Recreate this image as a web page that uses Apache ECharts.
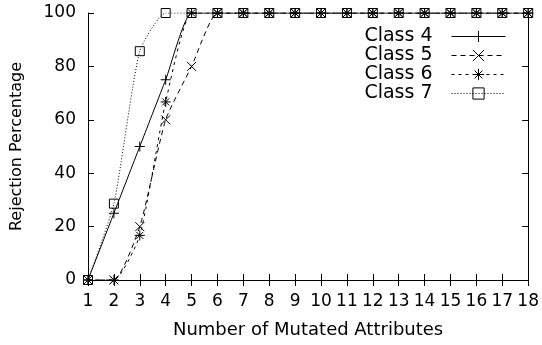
<!DOCTYPE html>
<html><head><meta charset="utf-8">
<script src="https://cdn.jsdelivr.net/npm/echarts@6/dist/echarts.min.js"></script>
<style>html,body{margin:0;padding:0;background:#fff}#c{width:542px;height:345px}</style>
</head><body><div id="c"></div>
<script>
const xValues = [1,2,3,4,5,6,7,8,9,10,11,12,13,14,15,16,17,18];
const class4 = [0,25,50,75,100,100,100,100,100,100,100,100,100,100,100,100,100,100];
const class5 = [0,0,20,60,80,100,100,100,100,100,100,100,100,100,100,100,100,100];
const class6 = [0,0,16.7,66.7,100,100,100,100,100,100,100,100,100,100,100,100,100,100];
const class7 = [0,28.6,85.7,100,100,100,100,100,100,100,100,100,100,100,100,100,100,100];
const seriesNames = ['Class 4','Class 5','Class 6','Class 7'];
const yTicks = [0,20,40,60,80,100];

const FONT = '"DejaVu Sans", "Liberation Sans", Arial, sans-serif';
const sym = {
  plus: 'path://M5 0L5 10M0 5L10 5',
  cross: 'path://M0 0L10 10M0 10L10 0',
  star: 'path://M5 0L5 10M0 5L10 5M1.5 1.5L8.5 8.5M1.5 8.5L8.5 1.5',
  square: 'path://M0 0L10 0L10 10L0 10Z'
};
function mk(name, data, symbol, dash, size) {
  return {
    name, type: 'line', smooth: 0.18,
    data: xValues.map((x,i)=>[x,data[i]]),
    symbol, symbolSize: size, showSymbol: true,
    lineStyle: {color:'#000', width:1, type: dash},
    itemStyle: {color:'rgba(0,0,0,0)', borderColor:'#000', borderWidth:1},
    emphasis: {disabled:true},
    z: 3
  };
}
const chart = echarts.init(document.getElementById('c'), null, {renderer:'canvas'});
const axisCommon = {
  axisLine:{show:true, lineStyle:{color:'#000', width:1}},
  axisTick:{show:true, inside:true, length:6, lineStyle:{color:'#000'}},
  splitLine:{show:false}
};
chart.setOption({
  animation:false,
  backgroundColor:'#fff',
  textStyle:{fontFamily:FONT},
  grid:{left:88, right:12, top:13, bottom:65, containLabel:false},
  legend:{
    data:seriesNames, orient:'vertical', align:'right',
    right:36, top:27, padding:0, itemWidth:54, itemHeight:14, itemGap:0,
    symbolSize:9,
    lineStyle:{width:1},
    itemStyle:{borderWidth:1},
    textStyle:{fontFamily:FONT, fontSize:19, color:'#000', padding:[0,14,0,0]},
    selectedMode:false
  },
  xAxis:[
    Object.assign({type:'value', min:1, max:18, interval:1, position:'bottom',
      name:'Number of Mutated Attributes', nameLocation:'middle', nameGap:41,
      nameTextStyle:{fontFamily:FONT, fontSize:18, color:'#000'},
      axisLabel:{fontFamily:FONT, fontSize:17, color:'#000', margin:13}}, axisCommon),
    Object.assign({type:'value', min:1, max:18, interval:1, position:'top',
      axisLabel:{show:false}}, axisCommon)
  ],
  yAxis:[
    Object.assign({type:'value', min:yTicks[0], max:yTicks[yTicks.length-1], interval:20, position:'left',
      name:'Rejection Percentage', nameLocation:'middle', nameGap:63,
      nameTextStyle:{fontFamily:FONT, fontSize:16, color:'#000'},
      axisLabel:{fontFamily:FONT, fontSize:17, color:'#000', margin:12}}, axisCommon),
    Object.assign({type:'value', min:yTicks[0], max:yTicks[yTicks.length-1], interval:20, position:'right',
      axisLabel:{show:false}}, axisCommon)
  ],
  series:[
    mk(seriesNames[0], class4, sym.plus, 'solid', 10),
    mk(seriesNames[1], class5, sym.cross, [5,4], 9),
    mk(seriesNames[2], class6, sym.star, [3,4], 10),
    mk(seriesNames[3], class7, sym.square, [1,2], 9)
  ]
});
</script></body></html>
